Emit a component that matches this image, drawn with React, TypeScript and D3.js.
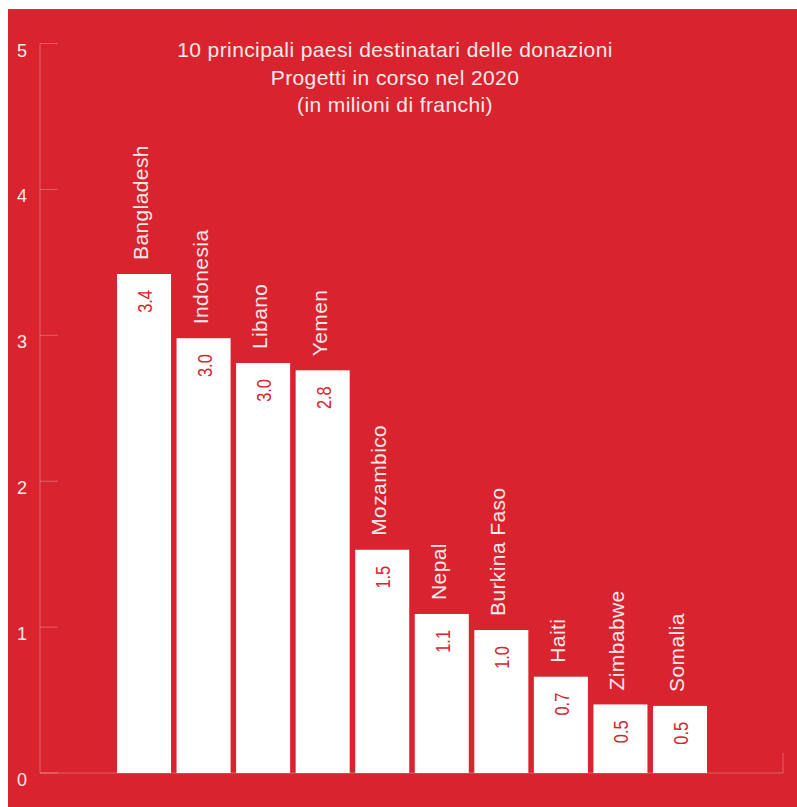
import React from 'react';
import * as d3 from 'd3';

const countries = ['Bangladesh', 'Indonesia', 'Libano', 'Yemen', 'Mozambico', 'Nepal', 'Burkina Faso', 'Haiti', 'Zimbabwe', 'Somalia'];
const values = [3.42, 2.98, 2.81, 2.76, 1.53, 1.09, 0.98, 0.66, 0.47, 0.46];
const valueLabels = ['3.4', '3.0', '3.0', '2.8', '1.5', '1.1', '1.0', '0.7', '0.5', '0.5'];
const yTicks = [0, 1, 2, 3, 4, 5];
const titleLines = [
  '10 principali paesi destinatari delle donazioni',
  'Progetti in corso nel 2020',
  '(in milioni di franchi)',
];

const W = 797;
const H = 807;
const RED = '#d9232f';
const INK = '#fbeaea';
const AXIS = 'rgba(255,255,255,0.28)';

export default function App() {
  const y = d3.scaleLinear().domain([0, 5]).range([773, 43.5]);
  const x = d3.scaleBand<string>().domain(countries).range([117, 707]).paddingInner(0.093).paddingOuter(0);
  const axisX = 40;
  const axisEnd = 783;

  return (
    <svg width={W} height={H} style={{ position: 'absolute', left: 0, top: 0 }} fontFamily="'Liberation Sans', Arial, sans-serif">
      <rect x={8} y={9} width={W - 8} height={H - 9} fill={RED} />
      <line x1={8} x2={W} y1={9.5} y2={9.5} stroke="#b83a42" strokeWidth={1} />

      {/* title */}
      {titleLines.map((t, i) => (
        <text key={i} x={395} y={57 + i * 27.5} textAnchor="middle" fill={INK} fontSize={21} letterSpacing={0.4}>
          {t}
        </text>
      ))}

      {/* y axis */}
      <line x1={axisX} x2={axisX} y1={y(5)} y2={y(0)} stroke={AXIS} />
      <line x1={axisX} x2={axisEnd} y1={y(0)} y2={y(0)} stroke={AXIS} />
      <line x1={axisEnd} x2={axisEnd} y1={y(0) - 20} y2={y(0)} stroke={AXIS} />
      {yTicks.map(t => (
        <g key={t}>
          <line x1={axisX} x2={axisX + 18} y1={y(t)} y2={y(t)} stroke={AXIS} />
          <text x={22} y={y(t) + 13} textAnchor="middle" fill={INK} fontSize={18}>
            {t}
          </text>
        </g>
      ))}

      {/* bars */}
      {countries.map((c, i) => {
        const bx = x(c) ?? 0;
        const cx = bx + x.bandwidth() / 2;
        const top = y(values[i]);
        return (
          <g key={c}>
            <rect x={bx} y={top} width={x.bandwidth()} height={y(0) - top} fill="#ffffff" />
            <text
              transform={`translate(${cx + 4},${top - 14}) rotate(-90)`}
              fill={INK}
              fontSize={21}
              letterSpacing={0.4}
            >
              {c}
            </text>
            <text
              transform={`translate(${cx + 8},${top + 16}) rotate(-90) scale(0.82,1)`}
              textAnchor="end"
              fill={RED}
              fontSize={20}
            >
              {valueLabels[i]}
            </text>
          </g>
        );
      })}
    </svg>
  );
}
